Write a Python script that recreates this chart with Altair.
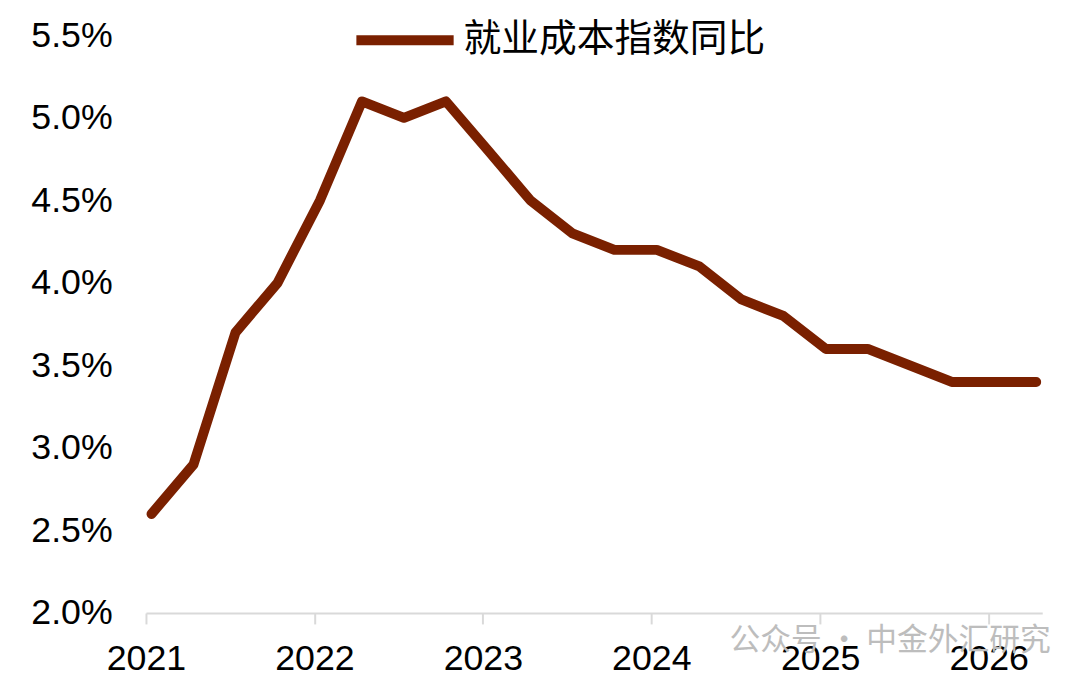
import altair as alt
import pandas as pd

dates = [
    "2021-01-13", "2021-04-14", "2021-07-14", "2021-10-13",
    "2022-01-13", "2022-04-14", "2022-07-14", "2022-10-13",
    "2023-01-13", "2023-04-14", "2023-07-14", "2023-10-13",
    "2024-01-13", "2024-04-14", "2024-07-14", "2024-10-13",
    "2025-01-13", "2025-04-14", "2025-07-14", "2025-10-13",
    "2026-01-13", "2026-04-14",
]
values = [
    2.6, 2.9, 3.7, 4.0,
    4.5, 5.1, 5.0, 5.1,
    4.8, 4.5, 4.3, 4.2,
    4.2, 4.1, 3.9, 3.8,
    3.6, 3.6, 3.5, 3.4,
    3.4, 3.4,
]
series_name = "就业成本指数同比"
y_ticks = [2.0, 2.5, 3.0, 3.5, 4.0, 4.5, 5.0, 5.5]
watermark = "公众号 · 中金外汇研究"

df = pd.DataFrame({"date": dates, "value": values, "series": series_name})

FONT = "Liberation Sans, Arial, sans-serif"
CJK = "Noto Sans CJK SC, sans-serif"
LINE_COLOR = "#7a2000"

wm = alt.Chart(pd.DataFrame({"t": [watermark]})).mark_text(
    font=CJK, fontSize=31, color="#bdbdbd", align="left", baseline="middle"
).encode(x=alt.value(588), y=alt.value(610), text="t:N")

line = alt.Chart(df).mark_line(
    strokeWidth=10, strokeCap="round", strokeJoin="round"
).encode(
    x=alt.X(
        "date:T",
        scale=alt.Scale(
            domain=[alt.DateTime(year=2021, month=1, date=1),
                    alt.DateTime(year=2026, month=4, date=27)],
            nice=False,
        ),
        axis=alt.Axis(
            title=None, format="%Y", tickCount={"interval": "year", "step": 1},
            grid=False, domainColor="#d9d9d9", domainWidth=2,
            tickColor="#d9d9d9", tickWidth=2, tickSize=11,
            labelFont=FONT, labelFontSize=36, labelColor="#000000",
            labelPadding=18, labelOverlap=False, labelFlush=False,
        ),
    ),
    y=alt.Y(
        "value:Q",
        scale=alt.Scale(domain=[2.0, 5.5], nice=False, zero=False),
        axis=alt.Axis(
            title=None, values=y_ticks, grid=False, domain=False, ticks=False,
            labelExpr="format(datum.value, '.1f') + '%'",
            labelFont=FONT, labelFontSize=36, labelColor="#000000",
            labelPadding=34,
        ),
    ),
    color=alt.Color(
        "series:N",
        scale=alt.Scale(domain=[series_name], range=[LINE_COLOR]),
        legend=alt.Legend(
            title=None, orient="none", legendX=207, legendY=-49,
            symbolType="stroke", symbolSize=9604, symbolStrokeWidth=10,
            labelFont=CJK, labelFontSize=38, labelColor="#000000",
            labelOffset=5, labelLimit=0, padding=0,
        ),
    ),
)

chart = alt.layer(wm, line).properties(
    width=903, height=582,
    autosize=alt.AutoSizeParams(type="none"),
    padding={"left": 139, "top": 25, "right": 30, "bottom": 73},
).configure(background="white").configure_view(strokeWidth=0, stroke=None)

chart.save("out.html", embed_options={"renderer": "svg", "actions": False})
